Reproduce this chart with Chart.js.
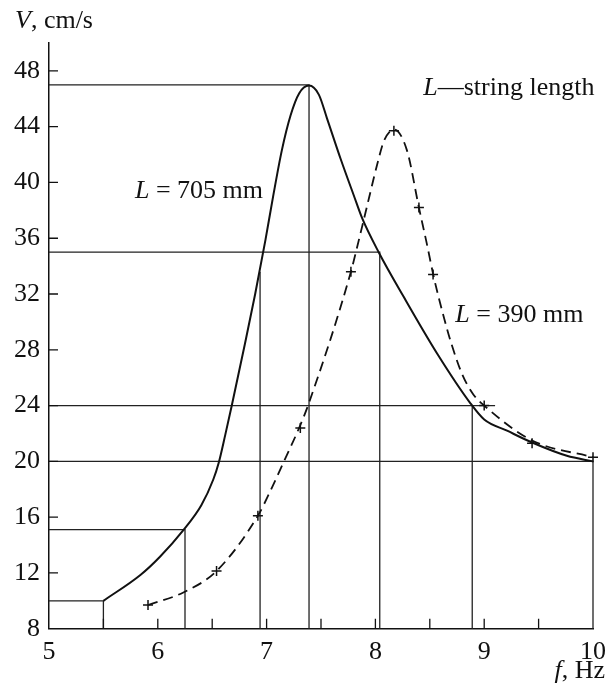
<!DOCTYPE html>
<html>
<head>
<meta charset="utf-8">
<script src="https://cdn.jsdelivr.net/npm/chart.js@4/dist/chart.umd.min.js"></script>
<style>
  body { margin: 0; background: #fff; }
  canvas { display: block; }
</style>
</head>
<body>
<canvas id="myChart" width="614" height="688"></canvas>
<script>
// L = 705 mm, solid curve (f in Hz, V in cm/s)
const fSolid = [5.5, 5.84, 6.02, 6.235, 6.40, 6.51, 6.56, 6.62, 6.68, 6.80, 6.895, 6.99, 7.06, 7.14, 7.22, 7.30, 7.39, 7.48, 7.555, 7.68, 7.80, 7.88, 8.03, 8.26, 8.57, 8.87, 9.0, 9.21, 9.44, 9.76, 10];
const vSolid = [10, 11.85, 13.16, 15.07, 16.85, 18.7, 19.9, 21.9, 24, 28.4, 32, 35.9, 39, 42.3, 44.8, 46.4, 46.95, 46.3, 44.6, 41.7, 39.1, 37.4, 35.0, 31.8, 27.7, 24.2, 23.0, 22.2, 21.35, 20.4, 20];

// L = 390 mm, dashed curve
const fDash = [5.91, 6.235, 6.54, 6.92, 7.03, 7.16, 7.31, 7.385, 7.775, 7.83, 7.88, 7.94, 8.03, 8.08, 8.17, 8.29, 8.40, 8.47, 8.54, 8.62, 8.70, 8.80, 8.90, 9.0, 9.44, 10];
const vDash = [9.7, 10.6, 12.14, 16.1, 17.8, 20, 22.6, 24.1, 33.6, 35.3, 36.9, 38.85, 41.7, 43.0, 43.8, 42.3, 38.2, 35.7, 33.1, 30.6, 28.4, 26.2, 24.8, 24, 21.5, 20.3];

// measured points (+) on the dashed curve
const fMark = [5.91, 6.54, 6.92, 7.31, 7.775, 8.17, 8.40, 8.53, 9.0, 9.44, 10];
const vMark = [9.7, 12.14, 16.1, 22.4, 33.6, 43.7, 38.2, 33.4, 24, 21.3, 20.3];

// reading lines: [f, V] corners
const guides = [
  [[5, 47], [7.39, 47], [7.39, 8]],
  [[5, 35], [8.04, 35], [8.04, 8]],
  [[6.94, 8], [6.94, 33.6]],
  [[5, 24], [9.1, 24]],
  [[8.89, 8], [8.89, 24]],
  [[5, 20], [10, 20], [10, 8]],
  [[5, 15.1], [6.25, 15.1], [6.25, 8]],
  [[5, 10], [5.5, 10], [5.5, 8]]
];

const xTicks = [5, 6, 7, 8, 9, 10];
const xMinor = [5.5, 6, 6.5, 7, 7.5, 8, 8.5, 9, 9.5];
const yTicks = [8, 12, 16, 20, 24, 28, 32, 36, 40, 44, 48];

const serif = "'Liberation Serif', 'DejaVu Serif', serif";

function toPts(xs, ys) {
  return xs.map((x, i) => ({ x: x, y: ys[i] }));
}

const datasets = [
  {
    data: toPts(fSolid, vSolid),
    borderColor: '#111',
    borderWidth: 2,
    pointRadius: 0,
    cubicInterpolationMode: 'monotone',
    clip: false
  },
  {
    data: toPts(fDash, vDash),
    borderColor: '#111',
    borderWidth: 1.8,
    borderDash: [10, 6],
    pointRadius: 0,
    cubicInterpolationMode: 'monotone',
    clip: false
  },
  {
    data: toPts(fMark, vMark),
    showLine: false,
    pointStyle: 'cross',
    pointRadius: 5,
    borderColor: '#111',
    pointBorderWidth: 1.5,
    clip: false
  }
];
guides.forEach(g => {
  datasets.push({
    data: g.map(p => ({ x: p[0], y: p[1] })),
    borderColor: '#222',
    borderWidth: 1.3,
    pointRadius: 0,
    tension: 0,
    clip: false
  });
});

// text pieces: [italic part, regular part, f, V]
const notes = [
  ['L', ' = 705 mm', 5.79, 38.9],
  ['L', '\u2014string length', 8.44, 46.26],
  ['L', ' = 390 mm', 8.735, 30.0]
];

function drawPieces(ctx, x, y, pieces, size) {
  pieces.forEach(p => {
    ctx.font = (p[1] ? 'italic ' : '') + size + 'px ' + serif;
    ctx.fillText(p[0], x, y);
    x += ctx.measureText(p[0]).width;
  });
}

const extras = {
  id: 'extras',
  afterDraw(chart) {
    const ctx = chart.ctx;
    const xs = chart.scales.x, ys = chart.scales.y;
    const area = chart.chartArea;
    ctx.save();
    ctx.strokeStyle = '#111';
    ctx.lineWidth = 1.3;
    // inward tick marks
    ctx.beginPath();
    xMinor.forEach(v => {
      const px = xs.getPixelForValue(v);
      ctx.moveTo(px, area.bottom);
      ctx.lineTo(px, area.bottom - 10);
    });
    yTicks.slice(1).forEach(v => {
      const py = ys.getPixelForValue(v);
      ctx.moveTo(area.left, py);
      ctx.lineTo(area.left + 9, py);
    });
    ctx.stroke();

    ctx.fillStyle = '#111';
    ctx.textBaseline = 'alphabetic';
    ctx.textAlign = 'left';
    notes.forEach(n => {
      drawPieces(ctx, xs.getPixelForValue(n[2]), ys.getPixelForValue(n[3]),
        [[n[0], true], [n[1], false]], 26);
    });
    // axis titles
    drawPieces(ctx, area.left - 34, area.top - 15, [['V', true], [', cm/s', false]], 26);
    ctx.font = '26px ' + serif;
    const w1 = ctx.measureText(', Hz').width;
    ctx.font = 'italic 26px ' + serif;
    const w0 = ctx.measureText('f').width;
    drawPieces(ctx, area.right + 12 - w0 - w1, area.bottom + 49, [['f', true], [', Hz', false]], 26);
    ctx.restore();
  }
};

const ctx = document.getElementById('myChart').getContext('2d');
new Chart(ctx, {
  type: 'line',
  data: { datasets: datasets },
  options: {
    responsive: false,
    animation: false,
    devicePixelRatio: 1,
    layout: { padding: { top: 43, right: 21, bottom: 0, left: 0 } },
    plugins: { legend: { display: false }, tooltip: { enabled: false } },
    scales: {
      x: {
        type: 'linear',
        min: 5,
        max: 10,
        afterBuildTicks: s => { s.ticks = xTicks.map(v => ({ value: v })); },
        afterFit: s => { s.height = 59.3; },
        grid: { drawOnChartArea: false, drawTicks: false },
        border: { color: '#111', width: 1.5 },
        ticks: { padding: 8, color: '#111', font: { family: serif, size: 26 } }
      },
      y: {
        type: 'linear',
        min: 8,
        max: 50,
        afterBuildTicks: s => { s.ticks = yTicks.map(v => ({ value: v })); },
        afterFit: s => { s.width = 49; },
        grid: { drawOnChartArea: false, drawTicks: false },
        border: { color: '#111', width: 1.5 },
        ticks: { padding: 9, color: '#111', font: { family: serif, size: 26 } }
      }
    }
  },
  plugins: [extras]
});
</script>
</body>
</html>
